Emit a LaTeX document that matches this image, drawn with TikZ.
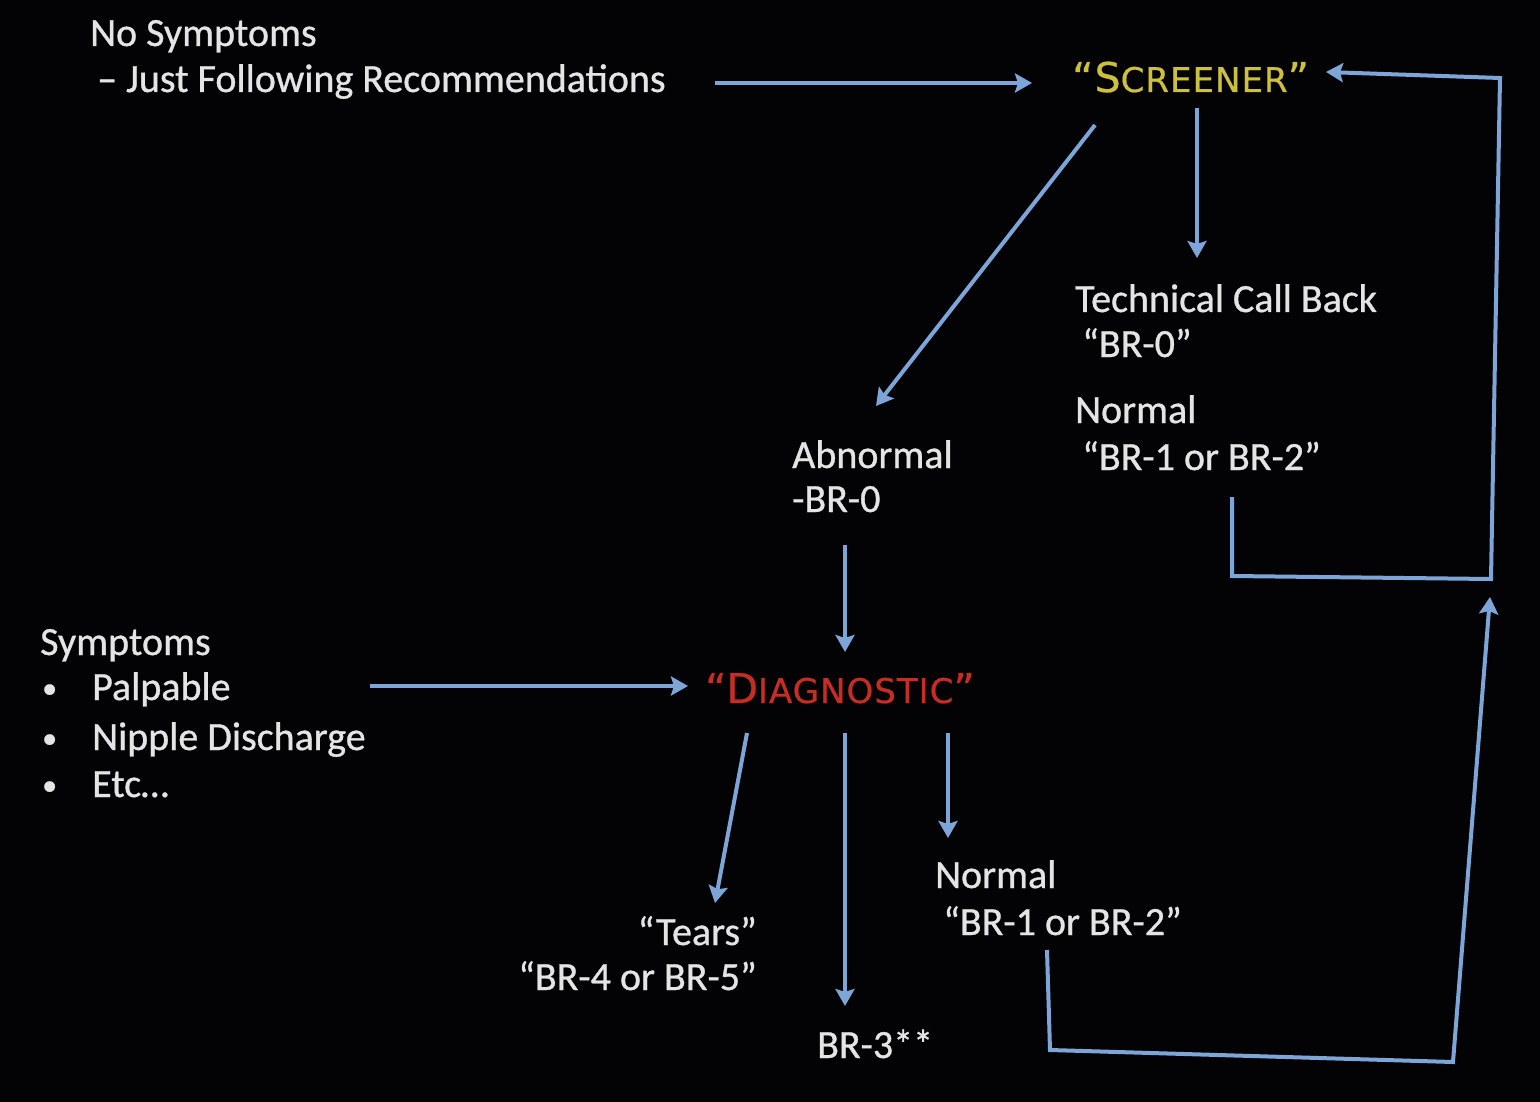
\documentclass[tikz,border=0pt]{standalone}
\usepackage{fontspec}
\setmainfont{Carlito}[FakeBold=0.8,AutoFakeBold=0.8]
\newfontfamily\capfont{DejaVu Sans}[LetterSpace=3,FakeBold=0.6]
\usetikzlibrary{arrows.meta}
\definecolor{bg}{RGB}{3,3,6}
\definecolor{txt}{RGB}{228,228,228}
\definecolor{arr}{RGB}{125,165,215}
\definecolor{scr}{RGB}{205,192,60}
\definecolor{dia}{RGB}{200,45,35}
\tikzset{
  lbl/.style={text=txt,anchor=base west,inner sep=0pt,font=\fontsize{40}{48}\selectfont\bfseries},
  bul/.style={text=txt,anchor=base west,inner sep=0pt,font=\fontsize{30}{36}\selectfont},
  conn/.style={draw=arr,line width=4pt,-{Stealth[length=17pt,width=19pt,inset=3pt]}},
}
\begin{document}
\begin{tikzpicture}[x=1pt,y=-1pt]
\fill[bg] (0,0) rectangle (1540,1102);
\useasboundingbox (0,0) rectangle (1540,1102);
% texts
\node[lbl] (nosym) at (90,46) {No Symptoms};
\node[lbl] (follow) at (97,92) {– Just Following Recommendations};
\node[text=scr,anchor=base west,inner sep=0pt] (screener) at (1072,92) {\capfont\fontsize{41}{44}\selectfont “S\fontsize{34}{36}\selectfont CREENER\fontsize{41}{44}\selectfont”};
\node[lbl] (tech) at (1075,312) {Technical Call Back};
\node[lbl] (tech0) at (1082,357) {“BR-0”};
\node[lbl] (norm1) at (1075,423) {Normal};
\node[lbl] (norm1b) at (1082,470) {“BR-1 or BR-2”};
\node[lbl] (abn) at (792,468) {Abnormal};
\node[lbl] (abn0) at (792,512) {-BR-0};
\node[lbl] (sym) at (40,655) {Symptoms};
\node[bul] (b1) at (42,698) {•};
\node[lbl] (palp) at (92,700) {Palpable};
\node[bul] (b2) at (42,748) {•};
\node[lbl] (nip) at (92,750) {Nipple Discharge};
\node[bul] (b3) at (42,795) {•};
\node[lbl] (etc) at (92,797) {Etc…};
\node[text=dia,anchor=base west,inner sep=0pt] (diag) at (705,703) {\capfont\fontsize{41}{44}\selectfont “D\fontsize{34}{36}\selectfont IAGNOSTIC\fontsize{41}{44}\selectfont”};
\node[lbl,anchor=base east] (tears) at (757,945) {“Tears”};
\node[lbl,anchor=base east] (tears45) at (757,990) {“BR-4 or BR-5”};
\node[lbl] (br3) at (817,1058) {BR-3**};
\node[lbl] (norm2) at (935,888) {Normal};
\node[lbl] (norm2b) at (943,935) {“BR-1 or BR-2”};
% connector end points
\coordinate (p1) at (715,83); \coordinate (p2) at (1032,83);
\coordinate (s1) at (1197,108); \coordinate (s2) at (1197,258);
\coordinate (d1) at (1095,125); \coordinate (d2) at (876,406);
\coordinate (a1) at (845,545); \coordinate (a2) at (845,652);
\coordinate (y1) at (370,686); \coordinate (y2) at (688,686);
\coordinate (g1) at (747,733); \coordinate (g2) at (715,903);
\coordinate (h1) at (845,733); \coordinate (h2) at (845,1006);
\coordinate (k1) at (948,733); \coordinate (k2) at (948,838);
\coordinate (r1) at (1232,497); \coordinate (r2) at (1232,576);
\coordinate (r3) at (1491,579); \coordinate (r4) at (1500,78);
\coordinate (r5) at (1326,72);
\coordinate (n1) at (1047,950); \coordinate (n2) at (1050,1050);
\coordinate (n3) at (1453,1062); \coordinate (n4) at (1490,597);
% connectors
\draw[conn] (p1) -- (p2);
\draw[conn] (s1) -- (s2);
\draw[conn] (d1) -- (d2);
\draw[conn] (a1) -- (a2);
\draw[conn] (y1) -- (y2);
\draw[conn] (g1) -- (g2);
\draw[conn] (h1) -- (h2);
\draw[conn] (k1) -- (k2);
\draw[conn,line join=miter] (r1) -- (r2) -- (r3) -- (r4) -- (r5);
\draw[conn,line join=miter] (n1) -- (n2) -- (n3) -- (n4);
\end{tikzpicture}
\end{document}
